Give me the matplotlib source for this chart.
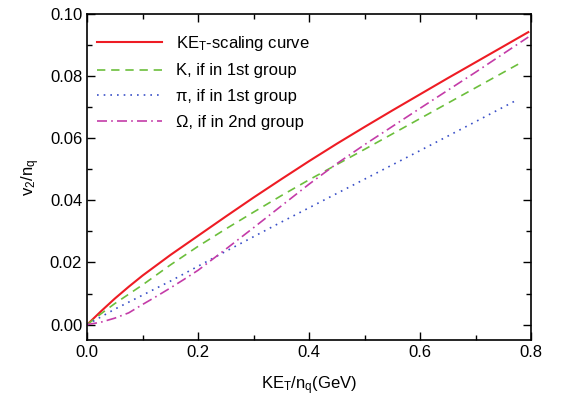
import numpy as np
import matplotlib.pyplot as plt
from matplotlib.ticker import MultipleLocator

plt.rcParams['font.family'] = ['Liberation Sans', 'DejaVu Sans']
plt.rcParams['mathtext.fontset'] = 'custom'
plt.rcParams['mathtext.rm'] = 'Liberation Sans'
plt.rcParams['mathtext.it'] = 'Liberation Sans'

# === Данные ===
x_red = [0.0, 0.025, 0.05, 0.075, 0.1, 0.15, 0.2, 0.25, 0.3, 0.35, 0.4, 0.45, 0.5,
         0.55, 0.6, 0.65, 0.7, 0.75, 0.795]
y_red = [0.0, 0.0043, 0.0084, 0.0122, 0.0158, 0.0224, 0.0286, 0.0348, 0.0409, 0.0468,
         0.0526, 0.0582, 0.0636, 0.0689, 0.0741, 0.0793, 0.0844, 0.0895, 0.0941]

x_k = [0.0, 0.025, 0.05, 0.1, 0.15, 0.2, 0.25, 0.3, 0.35, 0.4, 0.5, 0.6, 0.7, 0.78]
y_k = [0.0, 0.0035, 0.0068, 0.0128, 0.0192, 0.0252, 0.0308, 0.0362, 0.0415, 0.0466,
       0.0564, 0.0663, 0.0762, 0.0841]

x_pi = [0.0, 0.025, 0.05, 0.1, 0.15, 0.2, 0.25, 0.3, 0.35, 0.4, 0.5, 0.6, 0.7, 0.777]
y_pi = [0.0, 0.0025, 0.005, 0.0095, 0.014, 0.0188, 0.0236, 0.0283, 0.033, 0.0376,
        0.0468, 0.056, 0.0653, 0.0725]

x_om = [0.0, 0.025, 0.05, 0.075, 0.1, 0.125, 0.15, 0.175, 0.2, 0.25, 0.3, 0.35, 0.4, 0.45,
        0.5, 0.6, 0.7, 0.795]
y_om = [0.0, 0.0008, 0.0021, 0.0038, 0.0065, 0.0091, 0.0118, 0.0146, 0.0175, 0.0243,
        0.0312, 0.0382, 0.0452, 0.0518, 0.0579, 0.0696, 0.0812, 0.0925]

labels = ['KE$_\\mathregular{T}$-scaling curve', 'K, if in 1st group',
          '\u03c0, if in 1st group', '\u03a9, if in 2nd group']

# === График ===
fig = plt.figure(figsize=(5.62, 4.05), dpi=100)
ax = fig.add_axes([0.155, 0.160, 0.790, 0.806])

ax.plot(x_red, y_red, color='#ee1c24', lw=1.5, ls='-', label=labels[0])
ax.plot(x_k, y_k, color='#6cbf3c', lw=1.2, ls=(0, (5, 3.5)), label=labels[1])
ax.plot(x_pi, y_pi, color='#3a50c8', lw=1.2, ls=(0, (1, 3)), label=labels[2])
ax.plot(x_om, y_om, color='#c43ca8', lw=1.2, ls=(0, (6, 2.5, 1, 2.5)), label=labels[3])

ax.set_xlim(0, 0.8)
ax.set_ylim(-0.005, 0.10)
ax.xaxis.set_major_locator(MultipleLocator(0.2))
ax.xaxis.set_minor_locator(MultipleLocator(0.1))
ax.yaxis.set_major_locator(MultipleLocator(0.02))
ax.yaxis.set_minor_locator(MultipleLocator(0.01))
ax.xaxis.set_major_formatter(plt.FormatStrFormatter('%.1f'))
ax.yaxis.set_major_formatter(plt.FormatStrFormatter('%.2f'))
ax.tick_params(which='both', direction='in', top=True, right=True, labelsize=12)
ax.tick_params(which='major', length=6, width=1)
ax.tick_params(which='minor', length=3.5, width=1)
for s in ax.spines.values():
    s.set_linewidth(1.2)

ax.set_xlabel('KE$_\\mathregular{T}$/n$_\\mathregular{q}$(GeV)', fontsize=12, labelpad=10)
ax.set_ylabel('v$_\\mathregular{2}$/n$_\\mathregular{q}$', fontsize=12, labelpad=6)

ax.legend(loc='upper left', frameon=False, fontsize=12, handlelength=3.9,
          handletextpad=0.85, labelspacing=0.65, borderaxespad=0.2,
          bbox_to_anchor=(0.0, 0.97))

fig.savefig('out.png', dpi=100)
